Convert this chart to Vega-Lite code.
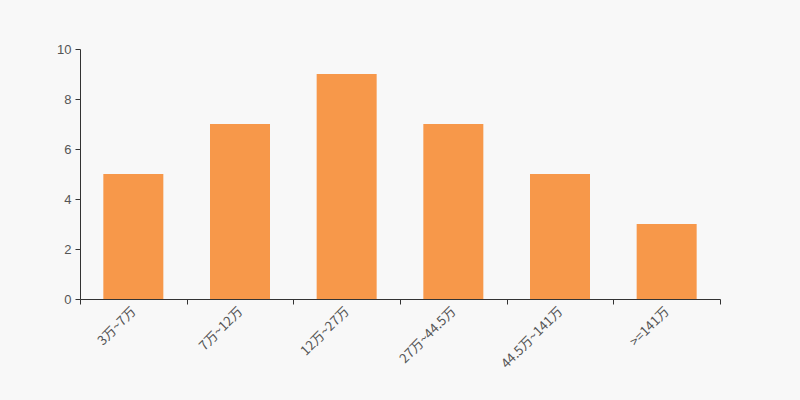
{
  "$schema": "https://vega.github.io/schema/vega-lite/v6.json",
  "width": 640,
  "height": 250,
  "autosize": "none",
  "padding": {"left": 80, "top": 49, "right": 80, "bottom": 101},
  "background": "#f8f8f8",
  "config": {"view": {"stroke": null}, "font": "Noto Sans CJK SC"},
  "data": {"values": [
    {"range": "3万~7万", "count": 5},
    {"range": "7万~12万", "count": 7},
    {"range": "12万~27万", "count": 9},
    {"range": "27万~44.5万", "count": 7},
    {"range": "44.5万~141万", "count": 5},
    {"range": ">=141万", "count": 3}
  ]},
  "mark": {"type": "bar", "color": "#f7984a", "width": {"band": 0.5625}},
  "encoding": {
    "x": {
      "field": "range", "type": "nominal", "sort": null,
      "scale": {"paddingInner": 0, "paddingOuter": 0},
      "axis": {
        "title": null, "labelAngle": -45, "labelAlign": "right", "labelBaseline": "middle",
        "tickBand": "extent", "domainColor": "#333", "tickColor": "#333", "tickSize": 5,
        "labelColor": "#555", "labelFontSize": 13, "labelPadding": 5, "labelFont": "Noto Sans CJK SC"
      }
    },
    "y": {
      "field": "count", "type": "quantitative",
      "scale": {"domain": [0, 10]},
      "axis": {
        "title": null, "grid": false, "values": [0, 2, 4, 6, 8, 10], "labelOverlap": false,
        "domainColor": "#333", "tickColor": "#333", "tickSize": 5,
        "labelColor": "#555", "labelFontSize": 13, "labelPadding": 4, "labelFont": "Liberation Sans"
      }
    }
  }
}
